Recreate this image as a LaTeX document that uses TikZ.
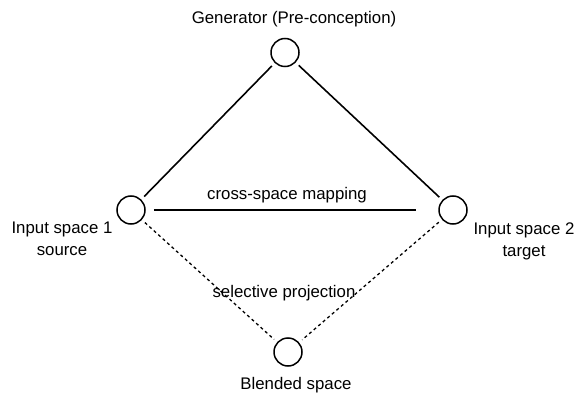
\documentclass[tikz,border=0pt]{standalone}
\usepackage{fontspec}
\setmainfont{Liberation Sans}
\begin{document}
\begin{tikzpicture}[x=1pt,y=-1pt,
  space/.style={circle,draw,line width=1.5pt,minimum size=28pt,inner sep=0pt},
  lbl/.style={font=\fontsize{16.8}{22}\selectfont,align=center,inner sep=0pt},
  solidline/.style={line width=1.6pt,shorten <=4pt,shorten >=4pt},
  dashline/.style={line width=1.3pt,dash pattern=on 3pt off 3pt,shorten <=4pt,shorten >=4pt}]
\useasboundingbox (0,0) rectangle (583,398);
\node[space] (gen) at (285,52.5) {};
\node[space] (in1) at (131,210) {};
\node[space] (in2) at (453,210) {};
\node[space] (bl) at (288,352) {};
\node[lbl] (tgen) at (294,19) {Generator (Pre-conception)};
\node[lbl] (tin1) at (62,239) {Input space 1\\source};
\node[lbl] (tin2) at (524,241) {Input space 2\\target};
\node[lbl] (tbl) at (296,385) {Blended space};
\node[lbl] (tcs) at (287,195) {cross-space mapping};
\node[lbl] (tsp) at (284,293) {selective projection};
\draw[solidline] (gen) -- (in1);
\draw[solidline] (gen) -- (in2);
\draw[line width=2.6pt,shorten <=8pt,shorten >=22pt] (in1) -- (in2);
\draw[dashline] (in1) -- (bl);
\draw[dashline] (in2) -- (bl);
\end{tikzpicture}
\end{document}
